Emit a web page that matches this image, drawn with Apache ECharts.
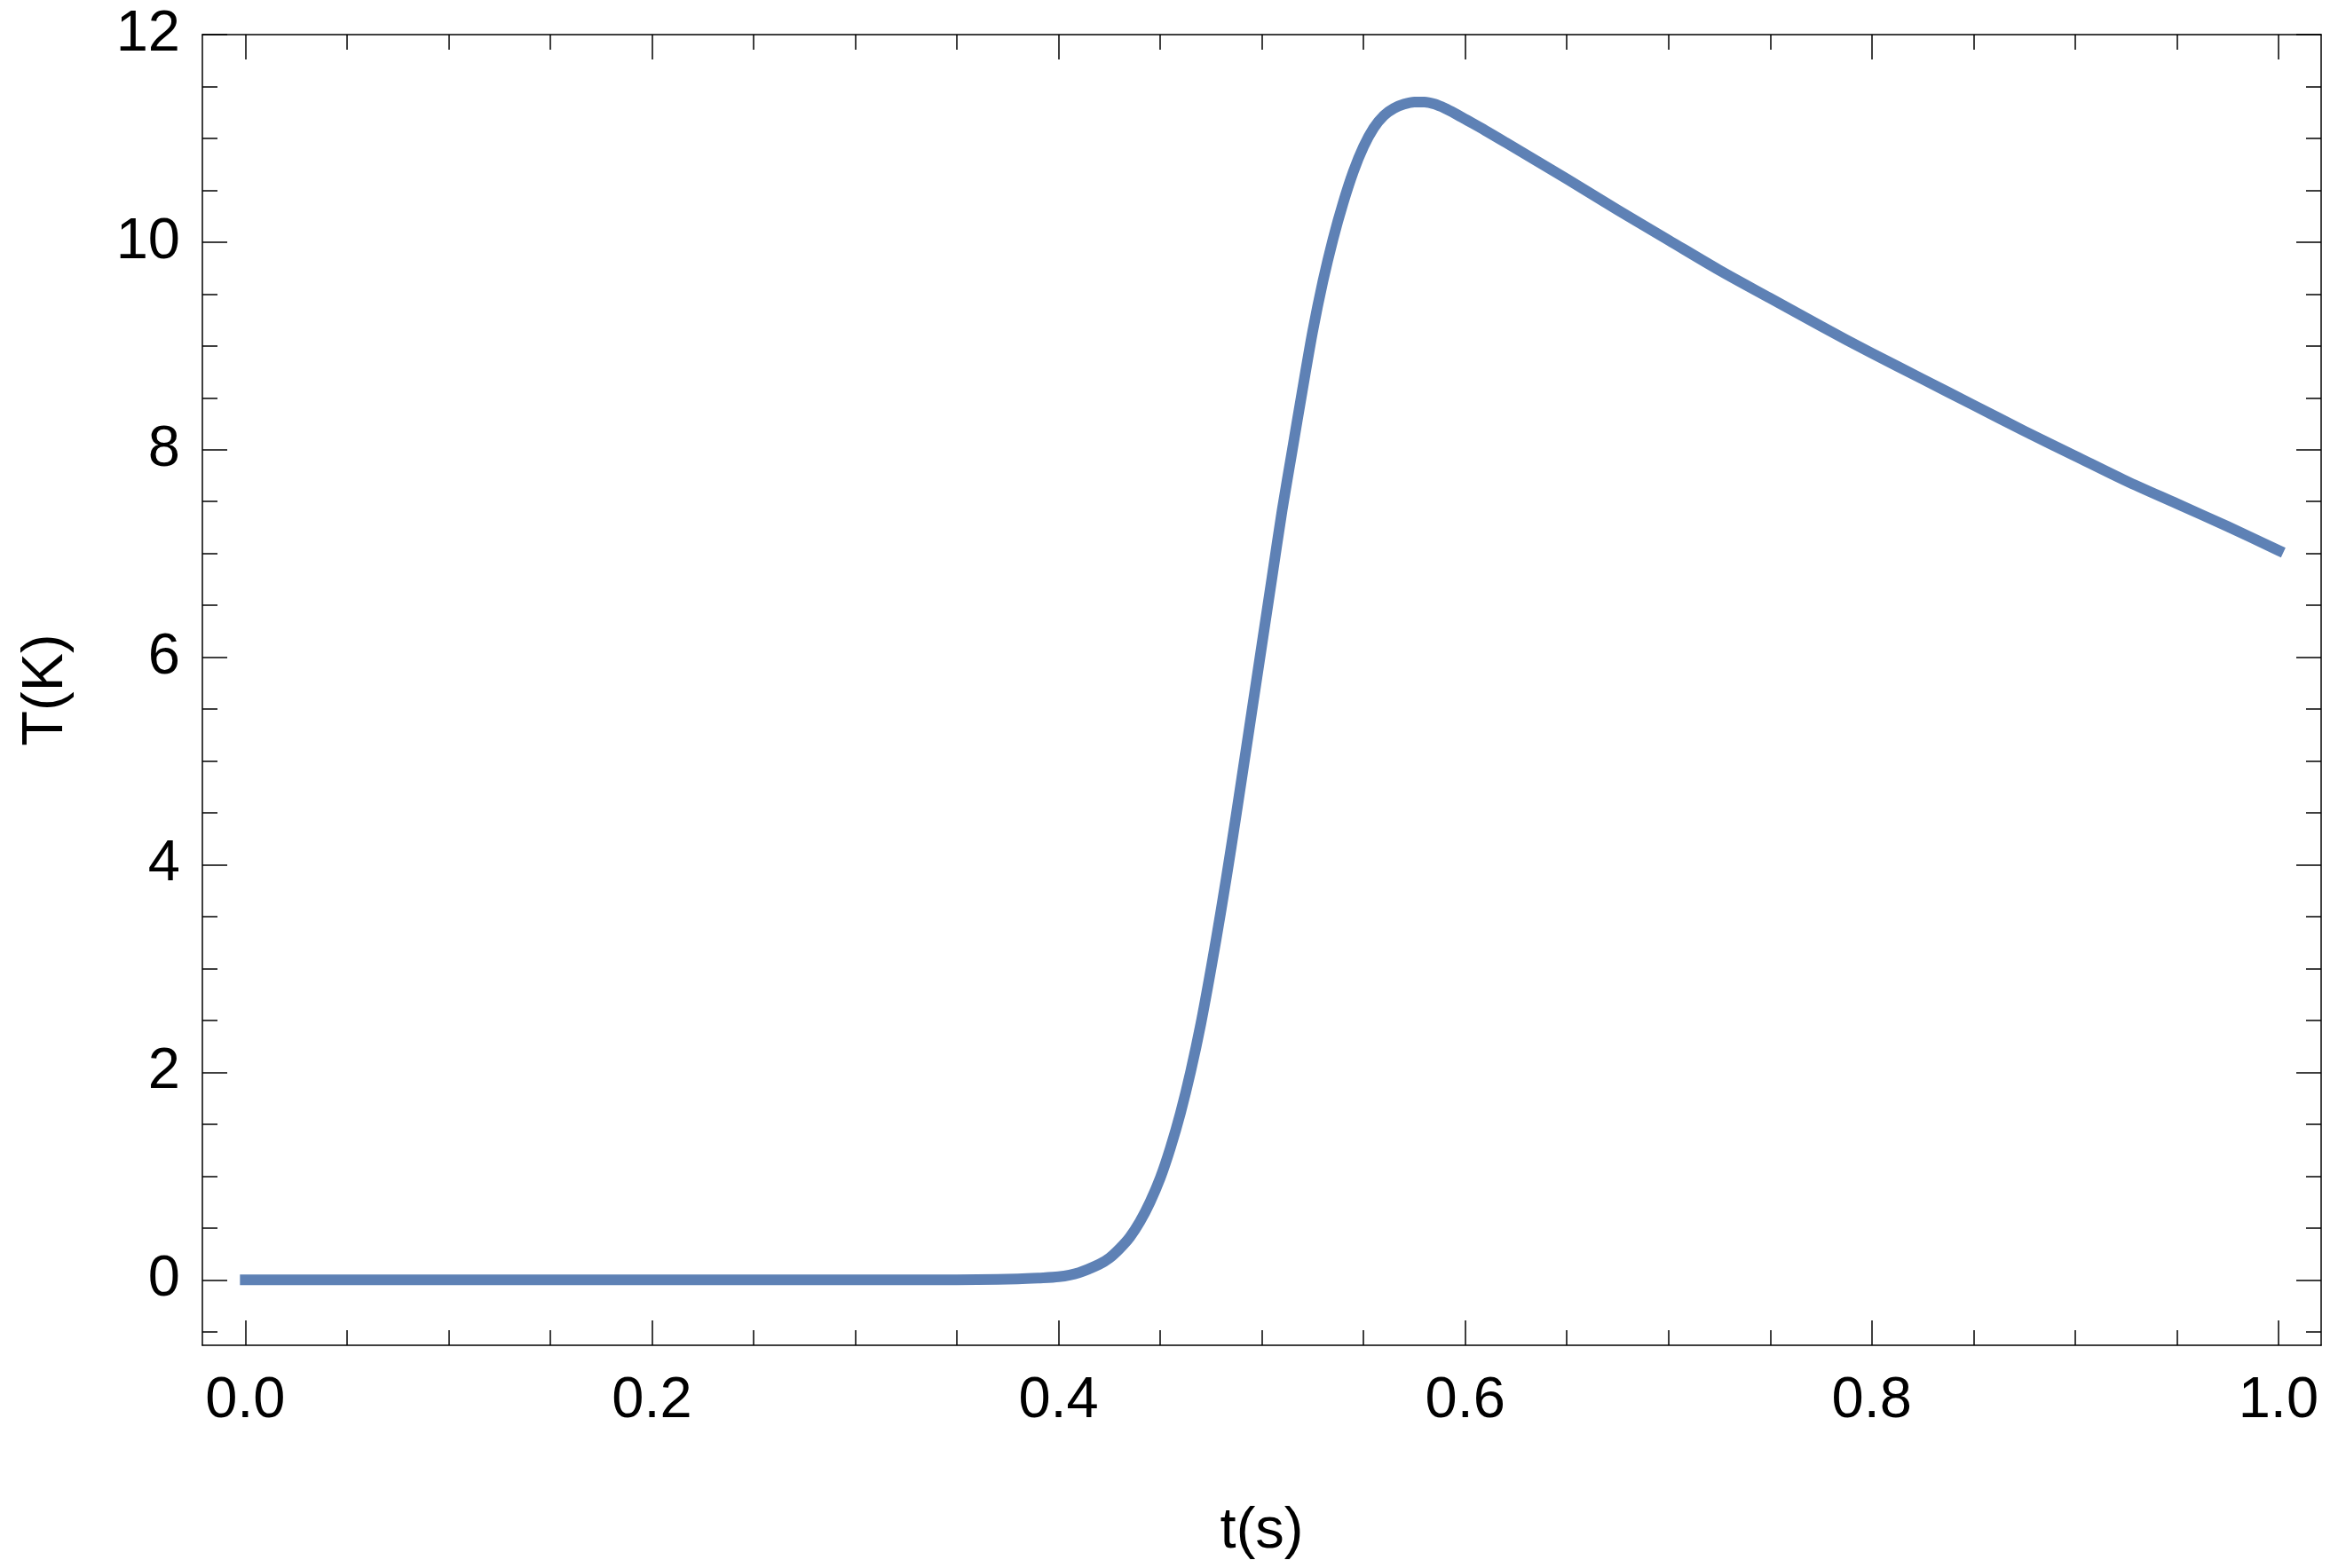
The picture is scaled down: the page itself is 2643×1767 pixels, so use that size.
<!DOCTYPE html>
<html>
<head>
<meta charset="utf-8">
<script src="https://cdn.jsdelivr.net/npm/echarts@6/dist/echarts.min.js"></script>
<style>
html,body{margin:0;padding:0;background:#fff;}
#chart{width:2643px;height:1767px;}
</style>
</head>
<body>
<div id="chart"></div>
<script>
// time (s)
var tValues = [0.00, 0.05, 0.10, 0.15, 0.20, 0.25, 0.30, 0.34, 0.36, 0.38, 0.39, 0.40, 0.41, 0.42, 0.425, 0.43, 0.435, 0.44, 0.445, 0.45, 0.455, 0.46, 0.465, 0.47, 0.475, 0.48, 0.485, 0.49, 0.495, 0.50, 0.505, 0.51, 0.515, 0.52, 0.525, 0.53, 0.535, 0.54, 0.545, 0.55, 0.555, 0.56, 0.565, 0.57, 0.575, 0.58, 0.585, 0.59, 0.595, 0.60, 0.61, 0.62, 0.635, 0.65, 0.675, 0.70, 0.725, 0.75, 0.775, 0.80, 0.825, 0.85, 0.875, 0.90, 0.925, 0.95, 0.975, 1.00];
// temperature (K)
var tempValues = [0, 0, 0, 0, 0, 0, 0, 0, 0.003, 0.01, 0.018, 0.03, 0.07, 0.15, 0.21, 0.30, 0.41, 0.56, 0.75, 0.98, 1.27, 1.61, 2.01, 2.47, 3.00, 3.57, 4.18, 4.82, 5.47, 6.12, 6.77, 7.42, 8.00, 8.58, 9.14, 9.62, 10.03, 10.38, 10.68, 10.92, 11.10, 11.22, 11.29, 11.33, 11.35, 11.35, 11.33, 11.29, 11.24, 11.185, 11.075, 10.96, 10.785, 10.61, 10.31, 10.02, 9.73, 9.46, 9.19, 8.93, 8.68, 8.43, 8.18, 7.94, 7.70, 7.48, 7.26, 7.03];
// tick values
var xMajorTicks = [0, 0.2, 0.4, 0.6, 0.8, 1.0];
var xMinorTicks = [0.05, 0.1, 0.15, 0.25, 0.3, 0.35, 0.45, 0.5, 0.55, 0.65, 0.7, 0.75, 0.85, 0.9, 0.95];
var yMajorTicks = [0, 2, 4, 6, 8, 10, 12];
var yMinorTicks = [-0.5, 0.5, 1, 1.5, 2.5, 3, 3.5, 4.5, 5, 5.5, 6.5, 7, 7.5, 8.5, 9, 9.5, 10.5, 11, 11.5];

var X_MIN = -0.0211, X_MAX = 1.021, Y_MIN = -0.63, Y_MAX = 12;
var FONT = '"Liberation Sans", Arial, sans-serif';
var INK = '#000';

function xAxisDef(pos, ticks, len, showLine, labels) {
  return {
    type: 'value', position: pos, min: X_MIN, max: X_MAX,
    axisLine: {show: showLine, onZero: false, lineStyle: {color: INK, width: 1.5}},
    axisTick: {show: true, inside: true, length: len, customValues: ticks, lineStyle: {color: INK, width: 1.5}},
    axisLabel: labels ? {show: true, customValues: ticks, margin: 31, fontFamily: FONT, fontSize: 65, color: INK,
      formatter: function (v) { return v.toFixed(1); }} : {show: false},
    splitLine: {show: false}
  };
}
function yAxisDef(pos, ticks, len, showLine, labels) {
  return {
    type: 'value', position: pos, min: Y_MIN, max: Y_MAX,
    axisLine: {show: showLine, onZero: false, lineStyle: {color: INK, width: 1.5}},
    axisTick: {show: true, inside: true, length: len, customValues: ticks, lineStyle: {color: INK, width: 1.5}},
    axisLabel: labels ? {show: true, customValues: ticks, margin: 25, fontFamily: FONT, fontSize: 65, color: INK,
      formatter: function (v) { return String(Math.round(v)); }} : {show: false},
    splitLine: {show: false}
  };
}

var xs = [
  xAxisDef('bottom', xMajorTicks, 28, true, true),
  xAxisDef('bottom', xMinorTicks, 17, false, false),
  xAxisDef('top', xMajorTicks, 28, true, false),
  xAxisDef('top', xMinorTicks, 17, false, false)
];
xs[0].name = 't(s)';
xs[0].nameLocation = 'middle';
xs[0].nameGap = 178;
xs[0].nameTextStyle = {fontFamily: FONT, fontSize: 65, color: INK};

var ys = [
  yAxisDef('left', yMajorTicks, 28, true, true),
  yAxisDef('left', yMinorTicks, 17, false, false),
  yAxisDef('right', yMajorTicks, 28, true, false),
  yAxisDef('right', yMinorTicks, 17, false, false)
];
ys[0].name = 'T(K)';
ys[0].nameLocation = 'middle';
ys[0].nameGap = 143;
ys[0].nameTextStyle = {fontFamily: FONT, fontSize: 65, color: INK};

var seriesData = tValues.map(function (t, i) { return [t, tempValues[i]]; });

var chart = echarts.init(document.getElementById('chart'), null, {renderer: 'canvas'});
chart.setOption({
  animation: false,
  backgroundColor: '#fff',
  grid: {left: 228, right: 28, top: 39, bottom: 251, containLabel: false},
  xAxis: xs,
  yAxis: ys,
  series: [{
    type: 'line',
    xAxisIndex: 0, yAxisIndex: 0,
    data: seriesData,
    showSymbol: false,
    smooth: 0.3,
    lineStyle: {color: '#5E81B5', width: 12, cap: 'square', join: 'round'},
    clip: false
  }]
});
</script>
</body>
</html>
